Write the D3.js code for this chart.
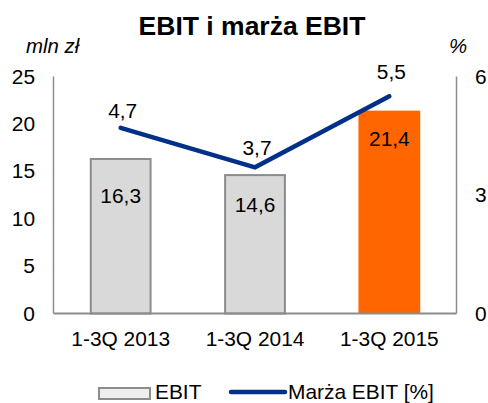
<!DOCTYPE html>
<html>
<head>
<meta charset="utf-8">
<script src="https://cdn.jsdelivr.net/npm/d3@7.9.0/dist/d3.min.js"></script>
<style>
  body { margin: 0; background: #fff; }
  svg text { font-family: "Liberation Sans", Arial, sans-serif; fill: #000; }
</style>
</head>
<body>
<svg id="chart" width="488" height="403"></svg>
<script>
// data
const periods = ['1-3Q 2013', '1-3Q 2014', '1-3Q 2015'];
const ebit = [16.3, 14.6, 21.4];
const margin = [4.7, 3.7, 5.5];
const leftTicks = [0, 5, 10, 15, 20, 25];
const rightTicks = [0, 3, 6];

// label nudges (px)
const barLabelDrop = [37, 30, 28];
const lineLabelLift = [17, 20, 24];

const svg = d3.select('#chart');
const plotLeft = 53.5, plotRight = 456.5, plotTop = 76.5, plotBottom = 313.5;
const stretch = 1.02;
const fs = 20.5;

let x = d3.scaleBand().domain(periods).range([plotLeft, plotRight])
    .paddingInner(0.54).paddingOuter(0.27);
let y = d3.scaleLinear().domain([0, 25]).range([plotBottom, plotTop]);
let y2 = d3.scaleLinear().domain([0, 6]).range([plotBottom, plotTop]);

const grey = '#8c8c8c';
const navy = '#003087';

function label(px, py, str, anchor = 'start', size = fs, extra = {}) {
    let t = svg.append('text')
        .attr('transform', `translate(${px},${py}) scale(${stretch},1)`)
        .attr('text-anchor', anchor)
        .style('font-size', size + 'px')
        .text(str);
    if (extra.middleY) t.attr('dy', '0.35em');
    if (extra.bold) t.style('font-weight', 'bold');
    if (extra.italic) t.style('font-style', 'italic');
    return t;
}
const fmt = v => String(v).replace('.', ',');

// title and units
label(252, 35, 'EBIT i marża EBIT', 'middle', 26, { bold: true });
label(26, 53, 'mln zł', 'start', 20, { italic: true });
label(458, 53, '%', 'middle', 20, { italic: true });

// bars
periods.forEach((p, i) => {
    let last = i === periods.length - 1;
    svg.append('rect')
        .attr('x', x(p) + (last ? 0 : 1))
        .attr('y', y(ebit[i]))
        .attr('width', x.bandwidth() - (last ? 0 : 2))
        .attr('height', plotBottom - y(ebit[i]))
        .attr('fill', last ? '#ff6600' : '#d9d9d9')
        .attr('stroke', last ? 'none' : grey)
        .attr('stroke-width', 2);
    label(x(p) + x.bandwidth() / 2, y(ebit[i]) + barLabelDrop[i], fmt(ebit[i]), 'middle', fs, { middleY: true });
});

// axis lines (no tick marks)
svg.append('line').attr('x1', plotLeft).attr('x2', plotLeft).attr('y1', plotTop).attr('y2', plotBottom)
    .attr('stroke', grey).attr('stroke-width', 1.5);
svg.append('line').attr('x1', plotRight).attr('x2', plotRight).attr('y1', plotTop).attr('y2', plotBottom)
    .attr('stroke', grey).attr('stroke-width', 1.5);
svg.append('line').attr('x1', plotLeft).attr('x2', plotRight).attr('y1', plotBottom).attr('y2', plotBottom)
    .attr('stroke', grey).attr('stroke-width', 2);

leftTicks.forEach(d => label(35, y(d), d, 'end', fs, { middleY: true }));
rightTicks.forEach(d => label(475, y2(d), d, 'start', fs, { middleY: true }));
periods.forEach(d => label(x(d) + x.bandwidth() / 2, 346, d, 'middle', fs));

// margin line
let pts = periods.map((p, i) => [x(p) + x.bandwidth() / 2, y2(margin[i])]);
svg.append('path')
    .attr('d', d3.line()(pts))
    .attr('fill', 'none').attr('stroke', navy).attr('stroke-width', 4.5)
    .attr('stroke-linecap', 'round').attr('stroke-linejoin', 'miter');
pts.forEach((pt, i) => {
    label(pt[0] + 2, pt[1] - lineLabelLift[i], fmt(margin[i]), 'middle', fs, { middleY: true });
});

// legend (kept just inside the bottom edge)
svg.append('rect').attr('x', 99).attr('y', 388).attr('width', 51).attr('height', 11)
    .attr('fill', '#eeeeee').attr('stroke', grey).attr('stroke-width', 2);
label(155, 398.5, 'EBIT');
svg.append('line').attr('x1', 231).attr('x2', 285).attr('y1', 392).attr('y2', 392)
    .attr('stroke', navy).attr('stroke-width', 4.5).attr('stroke-linecap', 'round');
label(288, 398.5, 'Marża EBIT [%]');
</script>
</body>
</html>
